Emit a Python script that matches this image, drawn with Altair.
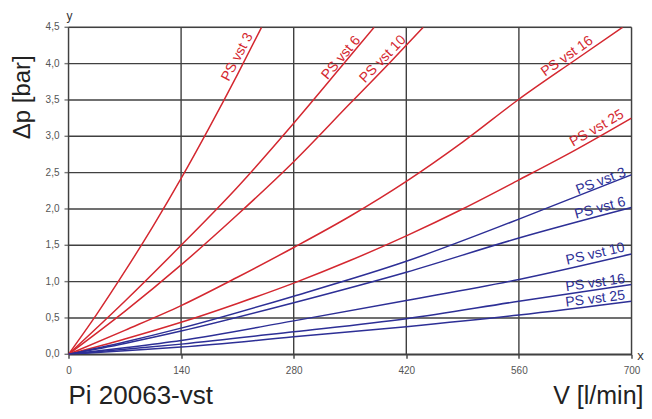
import altair as alt
import pandas as pd

# ---- data ----
x_ticks = [0, 140, 280, 420, 560, 700]
y_ticks = [0, 0.5, 1.0, 1.5, 2.0, 2.5, 3.0, 3.5, 4.0, 4.5]

# red family (upper curves)
red3_V = [0, 35, 70, 105, 140, 175, 210, 240]
red3_dp = [0, 0.55, 1.14, 1.76, 2.42, 3.12, 3.85, 4.5]
red6_V = [0, 70, 140, 210, 280, 340, 380]
red6_dp = [0, 0.73, 1.5, 2.3, 3.18, 3.97, 4.5]
red10_V = [0, 70, 140, 210, 280, 350, 400, 441]
red10_dp = [0, 0.59, 1.23, 1.92, 2.65, 3.45, 4.02, 4.5]
red16_V = [0, 70, 140, 210, 280, 350, 420, 490, 560, 630, 689]
red16_dp = [0, 0.33, 0.67, 1.06, 1.47, 1.9, 2.38, 2.92, 3.51, 4.05, 4.5]
red25_V = [0, 70, 140, 210, 280, 350, 420, 490, 560, 630, 700]
red25_dp = [0, 0.21, 0.44, 0.70, 0.98, 1.29, 1.63, 2.0, 2.40, 2.81, 3.25]

# blue family (lower curves)
blue_V = [0, 70, 140, 280, 420, 560, 700]
blue3_dp = [0, 0.17, 0.36, 0.80, 1.28, 1.86, 2.47]
blue6_dp = [0, 0.15, 0.32, 0.71, 1.13, 1.60, 2.02]
blue10_dp = [0, 0.09, 0.19, 0.46, 0.74, 1.03, 1.38]
blue16_dp = [0, 0.07, 0.14, 0.31, 0.49, 0.73, 0.96]
blue25_dp = [0, 0.05, 0.10, 0.24, 0.38, 0.54, 0.73]

names = ["PS vst 3", "PS vst 6", "PS vst 10", "PS vst 16", "PS vst 25"]

# label anchors (data units) and text angles
red_lab_V = [210, 339, 391, 620, 657]
red_lab_dp = [4.09, 4.08, 4.06, 4.10, 3.11]
red_lab_angle = [298, 310, 314, 325, 330]
blue_lab_V = [662, 661, 655, 655, 655]
blue_lab_dp = [2.38, 2.01, 1.38, 0.98, 0.76]
blue_lab_angle = [339, 345, 347, 352, 353]

RED = "#d42830"
BLUE = "#2d2f96"
GRID = "#404040"
FONT = "Liberation Sans"

rows = []
red_series = [(red3_V, red3_dp), (red6_V, red6_dp), (red10_V, red10_dp),
              (red16_V, red16_dp), (red25_V, red25_dp)]
for n, (vs, ds) in zip(names, red_series):
    for v, d in zip(vs, ds):
        rows.append({"family": "red", "series": "red " + n, "V": v, "dp": d})
blue_series = [blue3_dp, blue6_dp, blue10_dp, blue16_dp, blue25_dp]
for n, ds in zip(names, blue_series):
    for v, d in zip(blue_V, ds):
        rows.append({"family": "blue", "series": "blue " + n, "V": v, "dp": d})
lines_df = pd.DataFrame(rows)

lab_rows = []
for n, v, d, a in zip(names, red_lab_V, red_lab_dp, red_lab_angle):
    lab_rows.append({"family": "red", "label": n, "V": v, "dp": d, "angle": a})
for n, v, d, a in zip(names, blue_lab_V, blue_lab_dp, blue_lab_angle):
    lab_rows.append({"family": "blue", "label": n, "V": v, "dp": d, "angle": a})
labels_df = pd.DataFrame(lab_rows)

color = alt.Color("family:N", scale=alt.Scale(domain=["red", "blue"], range=[RED, BLUE]), legend=None)

x_scale = alt.Scale(domain=[0, 700], nice=False)
y_scale = alt.Scale(domain=[0, 4.5], nice=False)

x_axis = alt.Axis(values=x_ticks, title=None, grid=False,
                  domainColor=GRID, domainWidth=1.4,
                  tickColor=GRID, tickWidth=1.4, tickSize=4, labelPadding=7,
                  labelColor="#555555", labelFontSize=10, labelFont=FONT,
                  labelFlush=False, labelOverlap=False)


def X(field="V:Q"):
    return alt.X(field, scale=x_scale, axis=x_axis)


def Y(field="dp:Q"):
    return alt.Y(field, scale=y_scale, axis=None)


vgrid = alt.Chart(pd.DataFrame({"V": x_ticks})).mark_rule(color=GRID, strokeWidth=1.4).encode(x=X())
hgrid = alt.Chart(pd.DataFrame({"dp": y_ticks})).mark_rule(color=GRID, strokeWidth=1.4).encode(y=Y())
yticks = alt.Chart(pd.DataFrame({"dp": y_ticks})).mark_tick(
    color=GRID, thickness=1.4, size=4, orient="horizontal").encode(y=Y(), x=alt.value(-2))
ylabels = alt.Chart(pd.DataFrame({"dp": y_ticks})).transform_calculate(
    lab="replace(format(datum.dp, '.1f'), '.', ',')"
).mark_text(font=FONT, fontSize=10, color="#555555", align="right", baseline="middle").encode(
    y=Y(), x=alt.value(-9), text="lab:N")

lines = alt.Chart(lines_df).mark_line(strokeWidth=1.5, interpolate="monotone", clip=True).encode(
    x=X(), y=Y(), color=color, detail="series:N")

labels = alt.Chart(labels_df).mark_text(font=FONT, fontSize=14, align="center", baseline="middle").encode(
    x=X(), y=Y(), text="label:N", color=color, angle=alt.Angle("angle:Q", scale=None))


def annot(txt, x, y, **kw):
    return alt.Chart(pd.DataFrame({"a": [0]})).mark_text(text=txt, font=FONT, **kw).encode(
        x=alt.value(x), y=alt.value(y))


ann = [
    annot("y", 1, -11, fontSize=12, color="#333333", align="center", baseline="middle"),
    annot("x", 572, 329, fontSize=13, color="#333333", align="center", baseline="middle"),
    annot("Δp [bar]", -46, 70, fontSize=24, color="#222222", align="center", baseline="middle", angle=270),
    annot("Pi 20063-vst", 0, 377, fontSize=26, color="#222222", align="left", baseline="alphabetic"),
    annot("V [l/min]", 575, 377, fontSize=25, color="#222222", align="right", baseline="alphabetic"),
]

chart = alt.layer(vgrid, hgrid, yticks, ylabels, lines, labels, *ann).properties(
    width=563, height=327,
    autosize="none",
    padding={"left": 60.5, "top": 19.3, "right": 12, "bottom": 56.5},
).configure_view(stroke=None).configure(background="white")

chart.save("out.html", embed_options={"renderer": "svg", "actions": False})
